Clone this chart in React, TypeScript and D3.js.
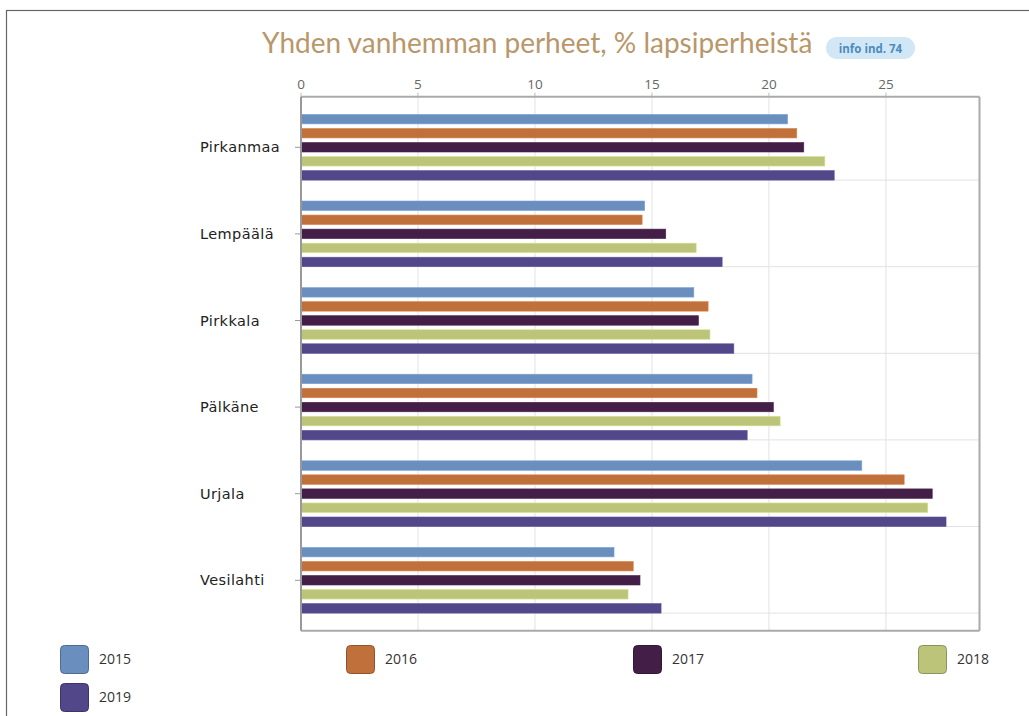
import React from "react";
import * as d3 from "d3";

const categories = ["Pirkanmaa", "Lempäälä", "Pirkkala", "Pälkäne", "Urjala", "Vesilahti"];
const years = ["2015", "2016", "2017", "2018", "2019"];
const values2015 = [20.8, 14.69, 16.79, 19.28, 23.97, 13.38];
const values2016 = [21.19, 14.58, 17.4, 19.49, 25.78, 14.2];
const values2017 = [21.49, 15.59, 16.99, 20.19, 26.98, 14.49];
const values2018 = [22.39, 16.89, 17.48, 20.48, 26.79, 13.98];
const values2019 = [22.79, 18.0, 18.5, 19.07, 27.57, 15.39];
const seriesValues = [values2015, values2016, values2017, values2018, values2019];
const xTicks = [0, 5, 10, 15, 20, 25];
const colors = ["#6a8ebe", "#c0703b", "#431f48", "#bcc47a", "#524789"];
const title = "Yhden vanhemman perheet, % lapsiperheistä";
const badge = "info ind. 74";

export default function App() {
  const W = 1029;
  const H = 716;
  const plot = { left: 301, right: 979.5, top: 96.7, bottom: 630.7 };

  const x = d3.scaleLinear().domain([0, 29]).range([plot.left, plot.right]);
  const y = d3.scaleBand<string>().domain(categories).range([104, 623.6]).paddingInner(0).paddingOuter(0);
  const inner = d3
    .scaleBand<string>()
    .domain(years)
    .range([10.4, y.bandwidth() - 10.5])
    .paddingInner(0.324)
    .paddingOuter(0);

  const legendPos = [
    { x: 60, y: 645 },
    { x: 346, y: 645 },
    { x: 633, y: 645 },
    { x: 918, y: 645 },
    { x: 60, y: 683 },
  ];

  return (
    <svg
      width={W}
      height={H}
      style={{ position: "absolute", left: 0, top: 0, display: "block", background: "#fff" }}
    >
      {/* outer frame */}
      <rect x={6.5} y={10.5} width={1200} height={900} fill="#fff" stroke="#666" strokeWidth={1.2} />

      {/* title */}
      <text x={262} y={53} fontFamily="Lato, 'Open Sans', sans-serif" fontSize={28} fill="#b9976a">
        {title}
      </text>
      <rect x={826} y={37} width={89} height={22} rx={11} fill="#d2e7f5" />
      <text
        x={870.5}
        y={52.5}
        textAnchor="middle"
        fontFamily="'Open Sans', sans-serif"
        fontWeight="bold"
        fontSize={11.5}
        fill="#4b8bc0"
      >
        {badge}
      </text>

      {/* vertical grid */}
      {xTicks.slice(1).map((t) => (
        <line key={"g" + t} x1={x(t)} x2={x(t)} y1={plot.top} y2={plot.bottom} stroke="#e2e2e2" strokeWidth={1} />
      ))}

      {/* horizontal separators under each group */}
      {categories.map((c) => {
        const yy = (y(c) ?? 0) + (inner("2019") ?? 0) + inner.bandwidth();
        return <line key={"s" + c} x1={plot.left} x2={plot.right} y1={yy} y2={yy} stroke="#e2e2e2" strokeWidth={1} />;
      })}

      {/* x tick labels and tick marks */}
      {xTicks.map((t) => (
        <g key={"t" + t}>
          <text
            x={x(t)}
            y={89}
            textAnchor="middle"
            fontFamily="'Open Sans', sans-serif"
            fontSize={13.5}
            fill="#666"
          >
            {t}
          </text>
          <line x1={x(t)} x2={x(t)} y1={plot.top - 4} y2={plot.top} stroke="#bbb" />
        </g>
      ))}

      {/* bars */}
      {categories.map((c, ci) => (
        <g key={"c" + c}>
          {years.map((yr, si) => {
            const v = seriesValues[si][ci];
            const by = (y(c) ?? 0) + (inner(yr) ?? 0);
            return (
              <rect
                key={yr}
                x={x(0)}
                y={by}
                width={x(v) - x(0)}
                height={inner.bandwidth()}
                fill={colors[si]}
                stroke={d3.color(colors[si])?.brighter(0.4).toString()}
                strokeWidth={0.6}
              />
            );
          })}
        </g>
      ))}

      {/* plot box */}
      <line x1={plot.left} x2={plot.right} y1={plot.top} y2={plot.top} stroke="#aaa" strokeWidth={2} />
      <line x1={plot.right} x2={plot.right} y1={plot.top} y2={plot.bottom} stroke="#aaa" strokeWidth={2} />
      <line x1={plot.left} x2={plot.right} y1={plot.bottom} y2={plot.bottom} stroke="#aaa" strokeWidth={2} />
      <line x1={plot.left} x2={plot.left} y1={plot.top} y2={plot.bottom} stroke="#999" strokeWidth={2} />

      {/* category labels and ticks */}
      {categories.map((c) => {
        const cy = (y(c) ?? 0) + y.bandwidth() / 2;
        return (
          <g key={"l" + c}>
            <line x1={plot.left - 6} x2={plot.left} y1={cy} y2={cy} stroke="#999" />
            <text
              x={200}
              y={cy + 5}
              fontFamily="'DejaVu Sans', Verdana, sans-serif"
              fontSize={14.5}
              letterSpacing={0.4}
              fill="#222"
            >
              {c}
            </text>
          </g>
        );
      })}

      {/* legend */}
      {years.map((yr, i) => (
        <g key={"lg" + yr} transform={`translate(${legendPos[i].x},${legendPos[i].y})`}>
          <rect
            x={0.5}
            y={0.5}
            width={28}
            height={28}
            rx={4}
            fill={colors[i]}
            stroke={d3.color(colors[i])?.darker(0.8).toString()}
            strokeWidth={1}
          />
          <text x={39} y={19} fontFamily="'Open Sans', sans-serif" fontSize={14} fill="#333">
            {yr}
          </text>
        </g>
      ))}
    </svg>
  );
}
